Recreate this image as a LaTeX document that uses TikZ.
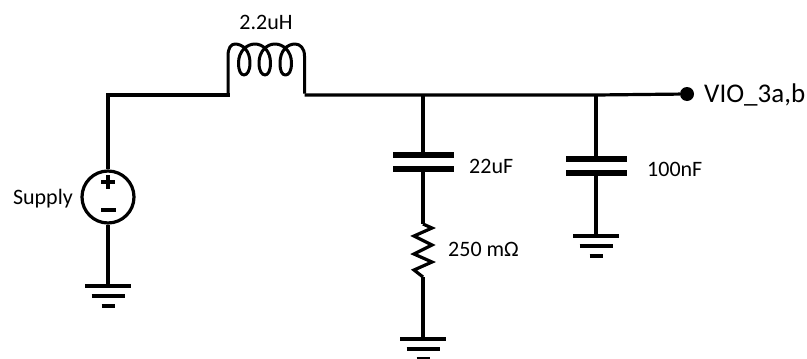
\documentclass[tikz,border=0pt]{standalone}
\usepackage{fontspec}
\setmainfont{Carlito}
\tikzset{
  wire/.style={line width=3.2pt,line cap=butt,line join=miter,black},
  plate/.style={line width=6.5pt,black},
  gbar/.style={line width=4.5pt,black},
  lbl/.style={font=\fontsize{22}{26}\selectfont,text=black,inner sep=0pt,anchor=west},
  src/.style={circle,draw=black,line width=3.2pt,minimum size=52pt,inner sep=0pt},
  dot/.style={circle,fill=black,minimum size=14pt,inner sep=0pt}
}
\newcommand{\gndsym}[1]{%
  \draw[gbar] ([xshift=-23pt]#1) -- ([xshift=23pt]#1);
  \draw[gbar] ([xshift=-16.5pt,yshift=-10pt]#1) -- ([xshift=16.5pt,yshift=-10pt]#1);
  \draw[gbar] ([xshift=-6.5pt,yshift=-20pt]#1) -- ([xshift=6.5pt,yshift=-20pt]#1);
}
\begin{document}
\begin{tikzpicture}[x=1pt,y=-1pt]
\useasboundingbox (0,0) rectangle (807,359);
\clip (0,0) rectangle (807,359);
% supply
\node[src] (V) at (108,197) {};
\draw[line width=3.4pt] (108,175) -- (108,189) (101,182) -- (115,182);
\draw[line width=3.4pt] (101,210) -- (116,210);
\node[lbl,anchor=east] (Vl) at (73,199) {Supply};
% junctions
\coordinate (corner) at (108,95);
\coordinate (La) at (228,95);
\coordinate (Lb) at (304.5,95);
\coordinate (j1) at (423,95);
\coordinate (j2) at (596,95);
\node[dot] (out) at (687,94) {};
\node[lbl,font=\fontsize{27}{32}\selectfont] (outl) at (704,95) {VIO\_3a,b};
% wires
\draw[wire] (V.north) -- (corner) -- ([xshift=1.5pt]La);
\draw[wire] (Lb) -- (j1) -- (j2) -- (out);
% inductor
\draw[wire,line width=3pt,line join=round]
  ([yshift=1.5pt]La) -- (228,56)
  .. controls (228,48) and (231,44) .. (235,44)
  .. controls (243,44) and (250,51) .. (250,63)
  .. controls (250,71) and (247,75) .. (244,75)
  .. controls (241,75) and (238.5,71) .. (238.5,63)
  .. controls (238.5,51) and (247,44) .. (255,44)
  .. controls (263,44) and (270.5,51) .. (270.5,63)
  .. controls (270.5,71) and (268,75) .. (265,75)
  .. controls (262,75) and (259,71) .. (259,63)
  .. controls (259,51) and (267,44) .. (275,44)
  .. controls (283,44) and (291.5,51) .. (291.5,63)
  .. controls (291.5,71) and (289,75) .. (285.5,75)
  .. controls (282,75) and (280,71) .. (280,63)
  .. controls (280,51) and (287,44) .. (295,44)
  .. controls (300,44) and (304.5,48) .. (304.5,56)
  -- ([yshift=1.5pt]Lb);
\node[lbl,anchor=center] (Ll) at (266,22) {2.2uH};
% source ground
\coordinate (g0) at (108,286);
\draw[wire] (V.south) -- (g0);
\gndsym{g0}
% C1, R
\coordinate (c1t) at (423,155);
\coordinate (c1b) at (423,169);
\draw[wire] (j1) -- (c1t);
\draw[plate] (393,155) -- (454,155);
\draw[plate] (393,169) -- (454,169);
\coordinate (r1t) at (423,224);
\coordinate (r1b) at (423,277);
\draw[wire] (c1b) -- (r1t);
\draw[wire,line join=miter] (r1t) -- (432,228) -- (414,236) -- (432,245) -- (414,254) -- (432,262) -- (414,270) -- (r1b);
\coordinate (g1) at (423,339);
\draw[wire] (r1b) -- (g1);
\gndsym{g1}
\node[lbl] (c1l) at (469,166) {22uF};
\node[lbl] (r1l) at (448,249) {250 mΩ};
% C2
\coordinate (c2t) at (596,159);
\coordinate (c2b) at (596,173);
\draw[wire] (j2) -- (c2t);
\draw[plate] (566,159) -- (627,159);
\draw[plate] (566,173) -- (627,173);
\coordinate (g2) at (596,236);
\draw[wire] (c2b) -- (g2);
\gndsym{g2}
\node[lbl] (c2l) at (647,169) {100nF};
\end{tikzpicture}
\end{document}
